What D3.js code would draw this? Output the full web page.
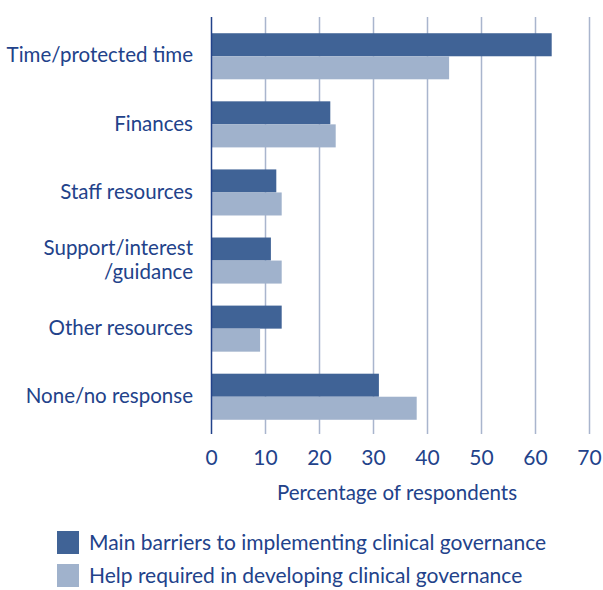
<!DOCTYPE html>
<html>
<head>
<meta charset="utf-8">
<script src="https://cdn.jsdelivr.net/npm/d3@7"></script>
<style>
  body { margin: 0; background: #fff; }
  text { font-family: Lato, "Noto Sans", sans-serif; fill: #22428a; }
</style>
</head>
<body>
<div id="chart"></div>
<script>
// data
var categories = ["Time/protected time", "Finances", "Staff resources", "Support/interest\n/guidance", "Other resources", "None/no response"];
var barriers = [63, 22, 12, 11, 13, 31];
var helpRequired = [44, 23, 13, 13, 9, 38];
var seriesNames = ["Main barriers to implementing clinical governance", "Help required in developing clinical governance"];
var ticks = [0, 10, 20, 30, 40, 50, 60, 70];
var axisTitle = "Percentage of respondents";

var width = 603, height = 590;
var colors = ["#406396", "#a0b2cc"];

var svg = d3.select("#chart")
  .append("svg")
    .attr("width", width)
    .attr("height", height);

var x = d3.scaleLinear()
  .domain([0, 70])
  .range([211.5, 589.5]);

var y = d3.scaleBand()
  .domain(categories)
  .range([22, 431])
  .paddingInner(0.3235)
  .paddingOuter(0.165);

var sub = d3.scaleBand()
  .domain([0, 1])
  .range([0, y.bandwidth()]);

// gridlines
svg.append("g")
  .selectAll("line")
  .data(ticks.slice(1))
  .enter()
  .append("line")
    .attr("x1", d => x(d))
    .attr("x2", d => x(d))
    .attr("y1", 17)
    .attr("y2", 434)
    .style("stroke", "#a9b5cd")
    .style("stroke-width", 1.5);

// bars
var rows = categories.map(function(c, i) {
  return { cat: c, values: [barriers[i], helpRequired[i]] };
});

var groups = svg.append("g")
  .selectAll("g")
  .data(rows)
  .enter()
  .append("g")
    .attr("transform", d => "translate(0," + y(d.cat) + ")");

groups.selectAll("rect")
  .data(d => d.values)
  .enter()
  .append("rect")
    .attr("x", x(0))
    .attr("y", (d, i) => sub(i))
    .attr("width", d => x(d) - x(0))
    .attr("height", sub.bandwidth())
    .style("fill", (d, i) => colors[i]);

// y axis line
svg.append("line")
  .attr("x1", x(0))
  .attr("x2", x(0))
  .attr("y1", 17)
  .attr("y2", 434)
  .style("stroke", "#22428a")
  .style("stroke-width", 1.5);

// category labels
groups.append("text")
  .attr("text-anchor", "end")
  .style("font-size", "20.5px")
  .each(function(d) {
    var lines = d.cat.split("\n");
    var t = d3.select(this);
    var mid = y.bandwidth() / 2 - 1;
    lines.forEach(function(line, i) {
      t.append("tspan")
        .attr("x", 193)
        .attr("y", mid + (i - (lines.length - 1) / 2) * 24)
        .attr("dy", "0.35em")
        .text(line);
    });
  });

// x tick labels
svg.append("g")
  .selectAll("text")
  .data(ticks)
  .enter()
  .append("text")
    .attr("x", d => x(d))
    .attr("y", 458)
    .attr("dy", "0.35em")
    .attr("text-anchor", "middle")
    .style("font-size", "21px")
    .text(d => d);

svg.append("text")
  .attr("x", 397)
  .attr("y", 493)
  .attr("dy", "0.35em")
  .attr("text-anchor", "middle")
  .style("font-size", "20.5px")
  .text(axisTitle);

// legend
var legend = svg.append("g")
  .selectAll("g")
  .data(seriesNames)
  .enter()
  .append("g")
    .attr("transform", (d, i) => "translate(57," + (531 + i * 33) + ")");

legend.append("rect")
  .attr("width", 22)
  .attr("height", 23)
  .style("fill", (d, i) => colors[i]);

legend.append("text")
  .attr("x", 32)
  .attr("y", 11.5)
  .attr("dy", "0.35em")
  .style("font-size", "21px")
  .text(d => d);
</script>
</body>
</html>
